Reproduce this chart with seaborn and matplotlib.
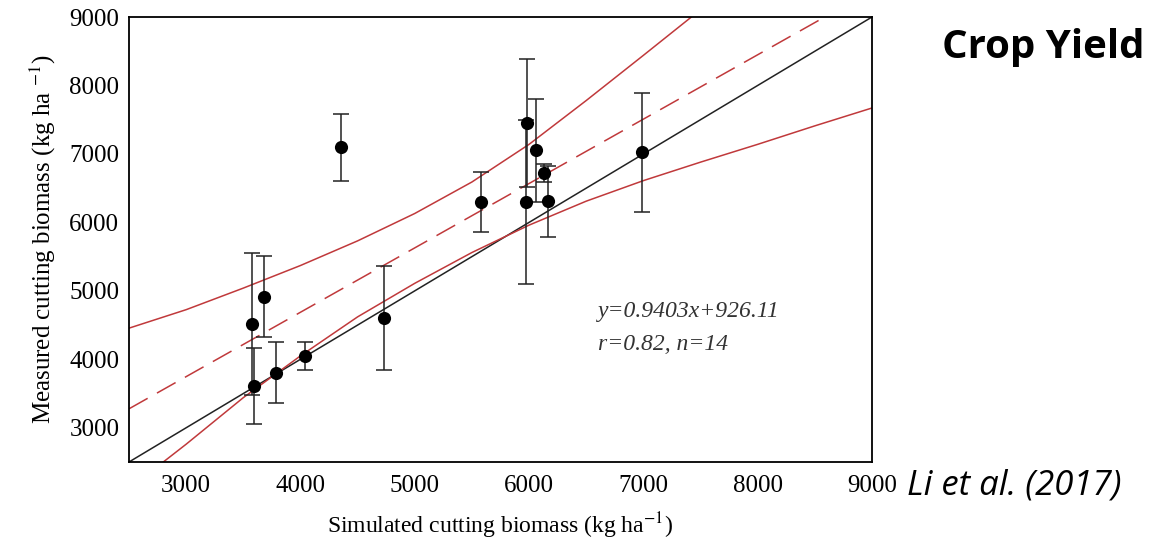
import matplotlib
matplotlib.use("Agg")
import matplotlib.pyplot as plt
import pandas as pd
import seaborn as sns

# observed points (simulated vs measured) with symmetric error bars
sim_x = [3574, 3595, 3685, 3787, 4041, 4356, 4727, 5580, 5973, 5982, 6064, 6128, 6166, 6989]
meas_y = [4518, 3611, 4917, 3806, 4050, 7095, 4601, 6297, 6297, 7452, 7051, 6721, 6306, 7026]
meas_err = [1040, 555, 585, 450, 200, 495, 763, 440, 1200, 940, 756, 130, 520, 870]

# confidence band of the fit
band_x_up = [2500, 3000, 3500, 4000, 4500, 5000, 5500, 6000, 6500, 7000, 7420, 7600]
band_y_up = [4455, 4725, 5040, 5370, 5730, 6130, 6590, 7140, 7780, 8440, 9000, 9240]
band_x_lo = [2500, 2800, 3000, 3500, 4000, 4500, 5000, 5500, 6000, 6500, 7000, 7500, 8000, 8500, 9000]
band_y_lo = [2104, 2500, 2760, 3440, 4050, 4620, 5110, 5560, 5960, 6310, 6610, 6880, 7140, 7410, 7671]

fit_slope = 0.9403
fit_intercept = 926.11

ticks = [3000, 4000, 5000, 6000, 7000, 8000, 9000]
RED = "#c0393b"

sns.set_theme(style="white")
plt.rcParams["font.family"] = ["Liberation Serif", "DejaVu Serif"]
plt.rcParams["mathtext.fontset"] = "stix"
plt.rcParams["text.color"] = "black"
plt.rcParams["axes.labelcolor"] = "black"

fig = plt.figure(figsize=(11.64, 5.47), dpi=100)
ax = fig.add_axes([129 / 1164, 1 - 462 / 547, 743 / 1164, 445 / 547])

pts = pd.DataFrame({"x": sim_x, "y": meas_y, "err": meas_err})
up = pd.DataFrame({"x": band_x_up, "y": band_y_up})
lo = pd.DataFrame({"x": band_x_lo, "y": band_y_lo})

ax.axline((0, 0), slope=1, color="#222222", lw=1.1, zorder=2)
ax.axline((0, fit_intercept), slope=fit_slope, color=RED, lw=1.1,
          dashes=(14, 7), zorder=2)
sns.lineplot(data=up, x="x", y="y", ax=ax, color=RED, lw=1.1, sort=False, zorder=2)
sns.lineplot(data=lo, x="x", y="y", ax=ax, color=RED, lw=1.1, sort=False, zorder=2)

ax.errorbar(pts["x"], pts["y"], yerr=pts["err"], fmt="none", ecolor="#222222",
            elinewidth=1.1, capsize=6, capthick=1.1, zorder=3)
sns.scatterplot(data=pts, x="x", y="y", ax=ax, s=90, color="black",
                edgecolor="black", linewidth=0, zorder=4)

ax.set_xlim(2500, 9000)
ax.set_ylim(2500, 9000)
ax.set_xticks(ticks)
ax.set_yticks(ticks)
ax.tick_params(direction="in", length=4, width=1, labelsize=18, pad=9,
               colors="black")
ax.tick_params(axis="y", pad=7)
for s in ax.spines.values():
    s.set_color("black")
    s.set_linewidth(1.3)
ax.set_xlabel("Simulated cutting biomass (kg ha$^{-1}$)", fontsize=17, labelpad=10)
ax.set_ylabel("Measured cutting biomass (kg ha $^{-1}$)", fontsize=18, labelpad=8)

ax.text(0.631, 0.339, "y=0.9403x+926.11", transform=ax.transAxes, fontsize=17,
        style="italic", color="#333333", va="center")
ax.text(0.631, 0.263, "r=0.82, n=14", transform=ax.transAxes, fontsize=17,
        style="italic", color="#333333", va="center")

fig.text(1043 / 1164, 1 - 48 / 547, "Crop Yield", fontsize=29, fontweight="bold",
         family=["Open Sans", "DejaVu Sans"], color="black", ha="center", va="center")
fig.text(1014 / 1164, 1 - 485 / 547, "Li et al. (2017)", fontsize=25,
         style="italic", family=["Open Sans", "DejaVu Sans"], color="black",
         ha="center", va="center")

fig.savefig("out.png", dpi=100)
